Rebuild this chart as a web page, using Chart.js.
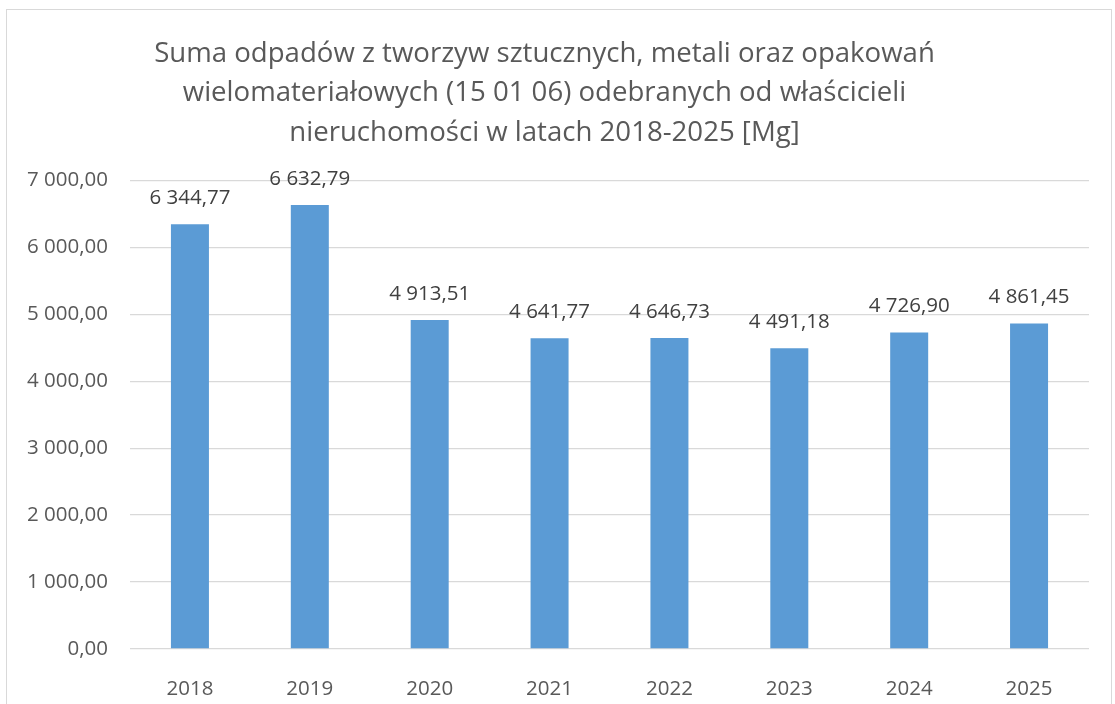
<!DOCTYPE html>
<html>
<head>
<meta charset="utf-8">
<script src="https://cdn.jsdelivr.net/npm/chart.js@4.4.1/dist/chart.umd.min.js"></script>
<style>
  html, body { margin: 0; padding: 0; background: #fff; }
  #wrap { position: relative; width: 1115px; height: 704px; }
  #frame { position: absolute; left: 6px; top: 9px; width: 1106px; height: 700px; border: 1px solid #d9d9d9; box-sizing: border-box; }
  canvas { position: absolute; left: 0; top: 0; }
</style>
</head>
<body>
<div id="wrap">
  <div id="frame"></div>
  <canvas id="chart" width="1115" height="704"></canvas>
</div>
<script>
// ─── Data ─────────────────────────────────────────────
const years = ['2018', '2019', '2020', '2021', '2022', '2023', '2024', '2025'];
const tonnes = [6344.77, 6632.79, 4913.51, 4641.77, 4646.73, 4491.18, 4726.90, 4861.45];
const titleLines = [
  'Suma odpadów z tworzyw sztucznych, metali oraz opakowań',
  'wielomateriałowych (15 01 06) odebranych od właścicieli',
  'nieruchomości w latach 2018-2025 [Mg]'
];

const FONT = '"Open Sans", sans-serif';

// 6344.77 -> "6 344,77"
function fmt(v) {
  const parts = v.toFixed(2).split('.');
  const intPart = parts[0].replace(/\B(?=(\d{3})+(?!\d))/g, ' ');
  return intPart + ',' + parts[1];
}

const valueLabels = {
  id: 'valueLabels',
  afterDatasetsDraw(chart) {
    const { ctx } = chart;
    const meta = chart.getDatasetMeta(0);
    ctx.save();
    ctx.font = '20.5px ' + FONT;
    ctx.fillStyle = '#404040';
    ctx.textAlign = 'center';
    ctx.textBaseline = 'middle';
    meta.data.forEach((bar, i) => {
      ctx.fillText(fmt(tonnes[i]), bar.x, bar.y - 26);
    });
    ctx.restore();
  }
};

new Chart(document.getElementById('chart'), {
  type: 'bar',
  data: {
    labels: years,
    datasets: [{
      data: tonnes,
      backgroundColor: '#5b9bd5',
      barPercentage: 0.317,
      categoryPercentage: 1,
    }],
  },
  options: {
    responsive: false,
    animation: false,
    layout: { padding: { left: 0, right: 26, top: 0, bottom: 0 } },
    plugins: {
      legend: { display: false },
      tooltip: { enabled: false },
      title: {
        display: true,
        text: titleLines,
        color: '#595959',
        font: { family: FONT, size: 27.6, weight: 'normal', lineHeight: 1.43 },
        padding: { top: 34, bottom: 28 },
      },
    },
    scales: {
      x: {
        grid: { display: false },
        border: { display: false },
        ticks: { color: '#595959', font: { family: FONT, size: 20.5 }, padding: 20 },
        afterFit: s => { s.height = 55; },
      },
      y: {
        min: 0,
        max: 7000,
        grid: { color: '#d9d9d9', lineWidth: 1.3, drawTicks: false },
        border: { display: false },
        ticks: {
          stepSize: 1000,
          color: '#595959',
          font: { family: FONT, size: 20.5 },
          padding: 22,
          callback: v => fmt(v),
        },
        afterFit: s => { s.width = 130; },
      },
    },
  },
  plugins: [valueLabels],
});
</script>
</body>
</html>
